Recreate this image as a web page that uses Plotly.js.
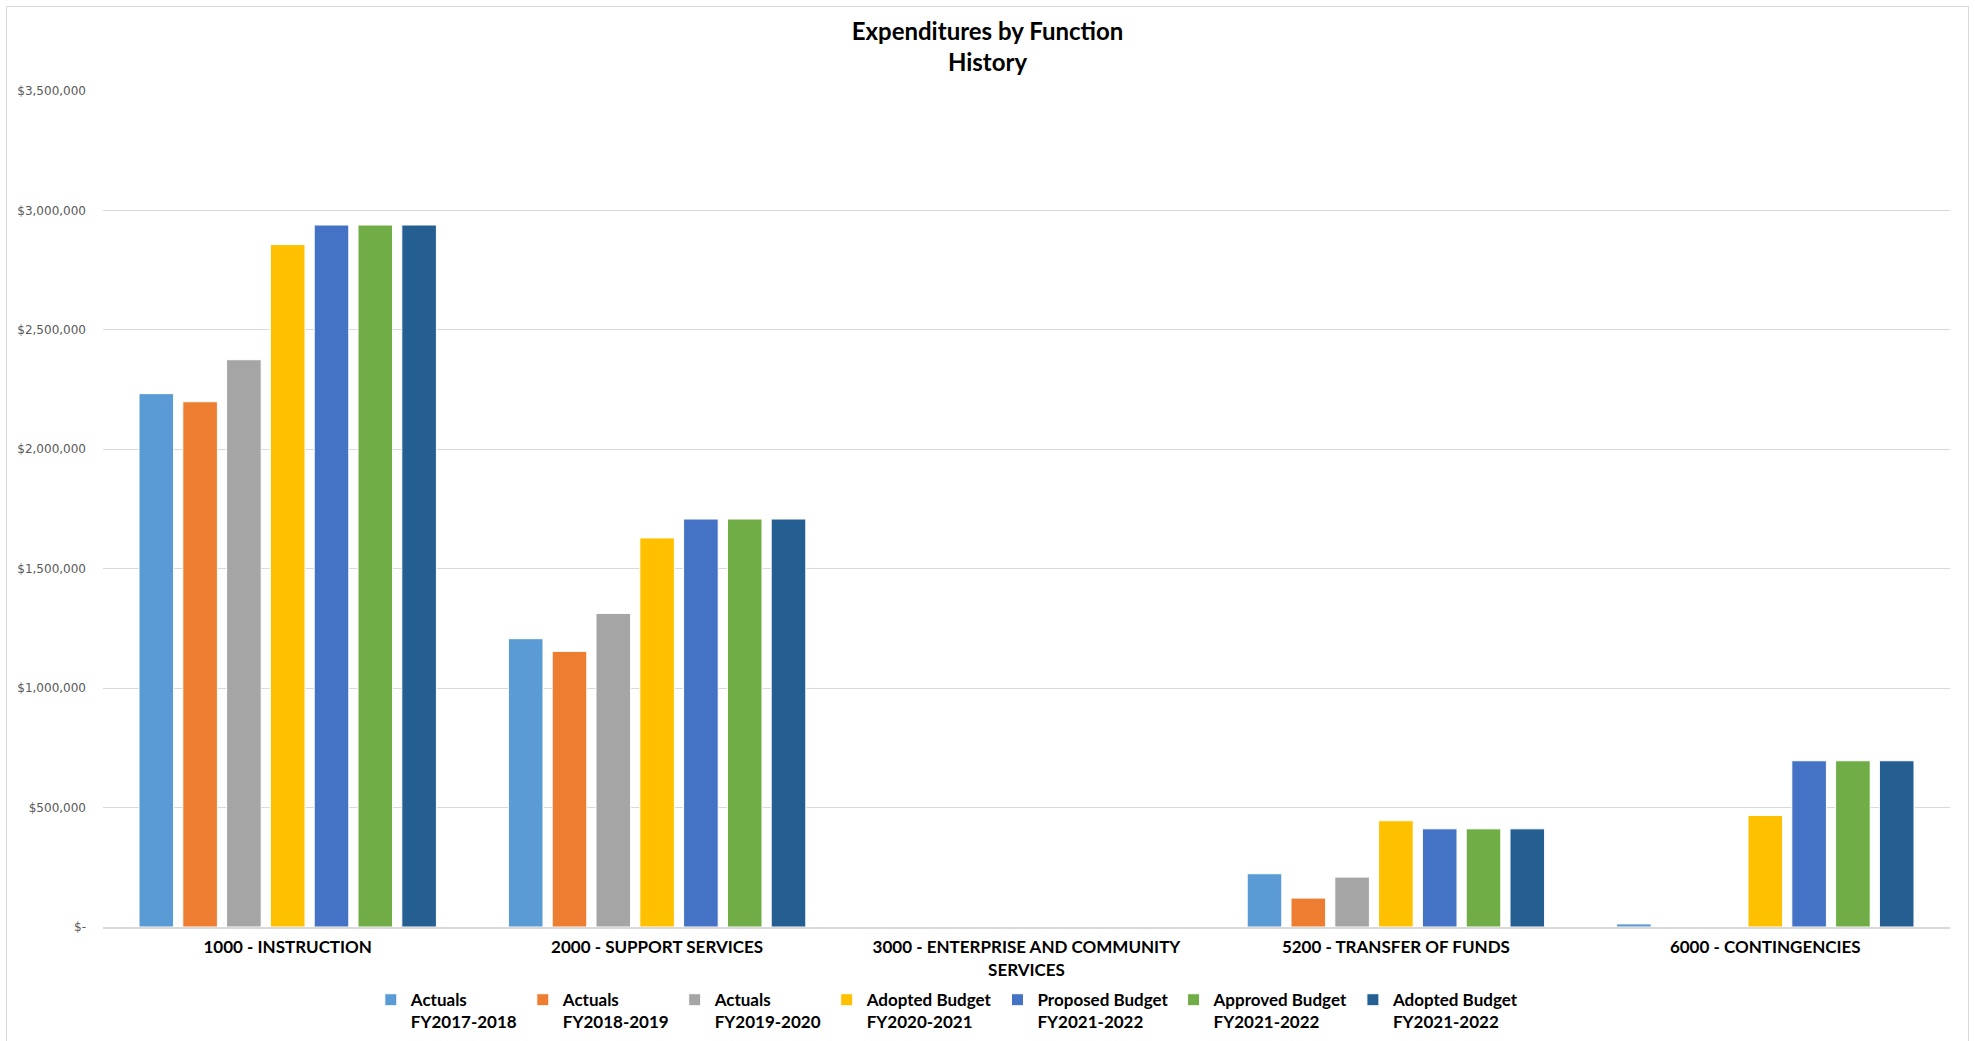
<!DOCTYPE html>
<html>
<head>
<meta charset="utf-8">
<script src="https://cdn.plot.ly/plotly-3.0.1.min.js"></script>
<style>
  html, body { margin: 0; padding: 0; background: #fff; }
  #wrap { position: relative; width: 1975px; height: 1041px; overflow: hidden; }
  #chart { position: absolute; left: 0; top: 0; width: 1975px; height: 1041px; }
  #frame { position: absolute; left: 6px; top: 6px; width: 1961px; height: 1060px;
           border: 1px solid #d9d9d9; pointer-events: none; }
</style>
</head>
<body>
<div id="wrap">
  <div id="chart"></div>
  <div id="frame"></div>
</div>
<script>
// Expenditure functions (x categories)
const categories = [
  "1000 - INSTRUCTION",
  "2000 - SUPPORT SERVICES",
  "3000 - ENTERPRISE AND COMMUNITY<br>SERVICES",
  "5200 - TRANSFER OF FUNDS",
  "6000 - CONTINGENCIES"
];

// Series names, one per fiscal-year column
const seriesNames = [
  "Actuals<br>FY2017-2018",
  "Actuals<br>FY2018-2019",
  "Actuals<br>FY2019-2020",
  "Adopted Budget<br>FY2020-2021",
  "Proposed Budget<br>FY2021-2022",
  "Approved Budget<br>FY2021-2022",
  "Adopted Budget<br>FY2021-2022"
];

// Dollar amounts per function
const actuals1718   = [2233000, 1207000, 0, 223000, 13000];
const actuals1819   = [2199000, 1154000, 0, 121000, 0];
const actuals1920   = [2375000, 1313000, 0, 209000, 0];
const adopted2021   = [2857000, 1629000, 0, 445000, 467000];
const proposed2122  = [2939000, 1708000, 0, 411000, 696000];
const approved2122  = [2939000, 1708000, 0, 411000, 696000];
const adopted2122   = [2939000, 1708000, 0, 411000, 696000];

// Y axis ticks
const yTickVals = [0, 500000, 1000000, 1500000, 2000000, 2500000, 3000000, 3500000];
const yTickText = ["$-", "$500,000", "$1,000,000", "$1,500,000", "$2,000,000",
                   "$2,500,000", "$3,000,000", "$3,500,000"];

const seriesValues = [actuals1718, actuals1819, actuals1920, adopted2021,
                      proposed2122, approved2122, adopted2122];
const colors = ["#5B9BD5", "#ED7D31", "#A5A5A5", "#FFC000", "#4472C4", "#70AD47", "#255E91"];

const traces = seriesValues.map((vals, i) => ({
  type: "bar",
  name: seriesNames[i],
  x: categories,
  y: vals,
  marker: { color: colors[i], line: { color: "#ffffff", width: 1 } },
  hoverinfo: "skip"
}));

const layout = {
  width: 1975,
  height: 1041,
  paper_bgcolor: "#ffffff",
  plot_bgcolor: "#ffffff",
  margin: { l: 103, r: 25, t: 91, b: 114, autoexpand: false },
  title: {
    text: "<b>Expenditures by Function<br>History</b>",
    font: { family: "Lato, 'DejaVu Sans', sans-serif", size: 24, color: "#000000" },
    x: 0.5, xanchor: "center", xref: "container",
    y: 0.962, yanchor: "top", yref: "container"
  },
  barmode: "group",
  bargap: 0.17,
  bargroupgap: 0.21,
  showlegend: true,
  legend: {
    orientation: "h",
    x: 0.145, xanchor: "left",
    y: -0.066, yanchor: "top",
    valign: "top",
    itemwidth: 30,
    traceorder: "normal",
    font: { family: "Lato, sans-serif", size: 17, color: "#000000", weight: "bold" }
  },
  xaxis: {
    type: "category",
    showgrid: false,
    showline: true,
    linecolor: "#d9d9d9",
    linewidth: 2,
    ticks: "",
    tickfont: { family: "Lato, sans-serif", size: 17, color: "#000000", weight: "bold" },
    ticklabelstandoff: 4
  },
  yaxis: {
    range: [0, 3500000],
    tickvals: yTickVals,
    ticktext: yTickText,
    showgrid: true,
    gridcolor: "#d9d9d9",
    gridwidth: 1,
    zeroline: false,
    showline: false,
    ticks: "",
    ticklabelstandoff: 16,
    tickfont: { family: "'DejaVu Sans', Verdana, sans-serif", size: 12, color: "#595959" }
  }
};

Plotly.newPlot("chart", traces, layout, { displayModeBar: false, staticPlot: true });
</script>
</body>
</html>
